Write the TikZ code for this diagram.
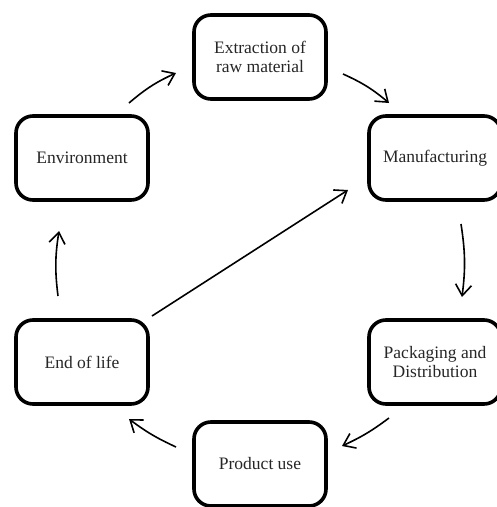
\documentclass[tikz,border=0pt]{standalone}
\usepackage{fontspec}
\setmainfont{Liberation Serif}
\usetikzlibrary{arrows.meta}
\begin{document}
\begin{tikzpicture}[x=1pt,y=-1pt,
  box/.style={draw=black, line width=3.6pt, rounded corners=17pt,
    minimum width=132pt, minimum height=84pt, align=center,
    text=black!85, inner sep=0pt, font=\fontsize{17.5}{19}\selectfont},
  flow/.style={line width=1.6pt,
    -{Straight Barb[length=11pt,width=16pt,line width=1.6pt]}}]
\useasboundingbox (0,0) rectangle (497,507);
\node[box] (ext) at (260,57) {Extraction of\\raw material};
\node[box] (env) at (82,158) {Environment};
\node[box] (man) at (435,158) {Manufacturing};
\node[box] (pac) at (435,362) {Packaging and\\Distribution};
\node[box] (pro) at (260,464) {Product use};
\node[box] (eol) at (82,362) {End of life};
% connector end points
\coordinate (a1s) at (129,103); \coordinate (a1e) at (176,73);
\coordinate (a2s) at (343,74);  \coordinate (a2e) at (389,103);
\coordinate (a3s) at (461,224); \coordinate (a3e) at (462,297);
\coordinate (a4s) at (389,418); \coordinate (a4e) at (342,446);
\coordinate (a5s) at (176,447); \coordinate (a5e) at (129,419);
\coordinate (a6s) at (58,296);  \coordinate (a6e) at (59,231);
\coordinate (a7s) at (152,316); \coordinate (a7e) at (348,190);
\draw[flow] (a1s) to[bend left=8] (a1e);
\draw[flow] (a2s) to[bend left=8] (a2e);
\draw[flow] (a3s) to[bend left=8] (a3e);
\draw[flow] (a4s) to[bend left=6] (a4e);
\draw[flow] (a5s) to[bend left=6] (a5e);
\draw[flow] (a6s) to[bend left=8] (a6e);
\draw[flow] (a7s) -- (a7e);
\end{tikzpicture}
\end{document}
